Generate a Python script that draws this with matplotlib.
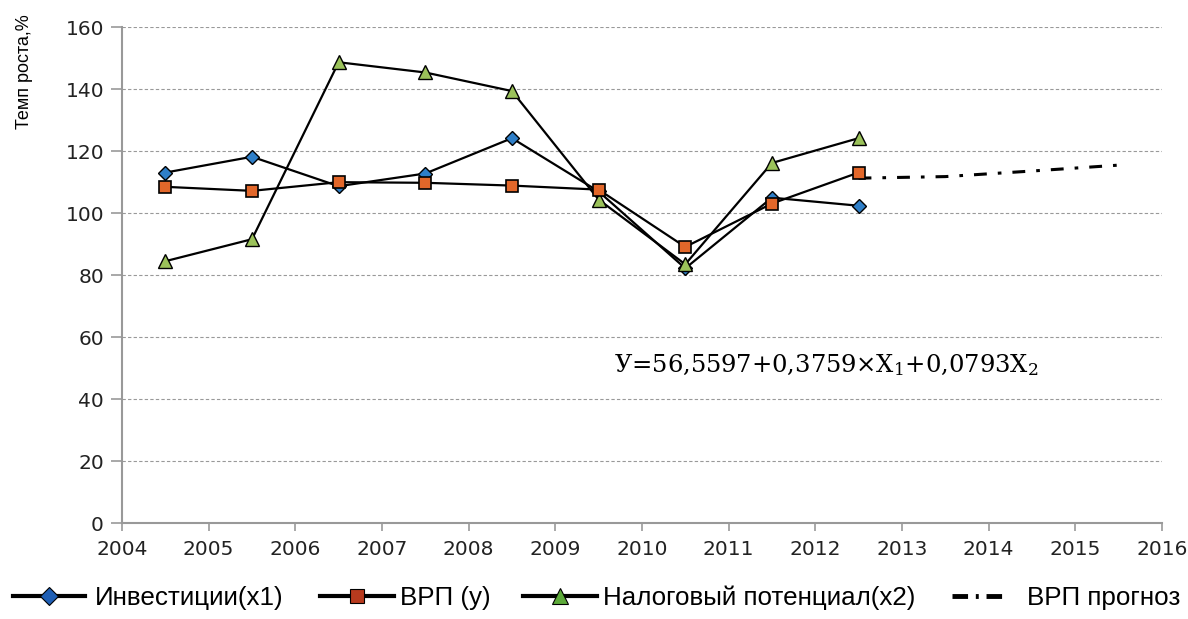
import matplotlib
matplotlib.use('Agg')
import matplotlib.pyplot as plt
from matplotlib.lines import Line2D

plt.rcParams['mathtext.fontset'] = 'dejavuserif'

# данные (темп роста, %)
years = [2004.5, 2005.5, 2006.5, 2007.5, 2008.5, 2009.5, 2010.5, 2011.5, 2012.5]
investicii = [113.1, 118.2, 108.7, 112.8, 124.2, 107.0, 82.2, 105.0, 102.4]
vrp = [108.5, 107.2, 110.0, 109.8, 108.9, 107.6, 89.1, 103.1, 113.1]
nalog = [84.5, 91.6, 148.7, 145.4, 139.4, 104.4, 83.5, 116.2, 124.2]
prognoz_years = [2012.5, 2013.5, 2014.5, 2015.5]
prognoz = [111.3, 111.8, 113.6, 115.5]
xticks = list(range(2004, 2017))
yticks = list(range(0, 161, 20))

labels = ['Инвестиции(x1)', 'ВРП (у)', 'Налоговый потенциал(x2)', 'ВРП прогноз']
c_blue = '#2F7FC8'
c_orange = '#E2672A'
c_green = '#9BC25A'
dashdot = (0, (4.2, 3.6, 1.2, 3.6))

fig = plt.figure(figsize=(11.88, 6.19), dpi=100)
ax = fig.add_axes([0.1027, 0.155, 0.8753, 0.801])

ax.plot(years, investicii, color='black', lw=1.6, marker='D', ms=7,
        mfc=c_blue, mec='black', mew=1.0, zorder=3)
ax.plot(years, nalog, color='black', lw=1.6, marker='^', ms=10,
        mfc=c_green, mec='black', mew=1.0, zorder=4)
ax.plot(years, vrp, color='black', lw=1.6, marker='s', ms=9,
        mfc=c_orange, mec='black', mew=1.2, zorder=5)
ax.plot(prognoz_years, prognoz, color='black', lw=2.2, linestyle=dashdot,
        zorder=2)

ax.set_xlim(2004, 2016)
ax.set_ylim(0, 160)
ax.set_xticks(xticks)
ax.set_yticks(yticks)
ax.tick_params(axis='both', labelsize=14.5, labelcolor='#222222',
               color='#999999', length=6, width=1.2)
ax.tick_params(axis='y', length=8, pad=5)
ax.tick_params(axis='x', pad=6)
ax.grid(axis='y', color='#999999', linestyle=(0, (3, 2)), lw=0.8)
ax.set_axisbelow(True)
for s in ['top', 'right']:
    ax.spines[s].set_visible(False)
for s in ['left', 'bottom']:
    ax.spines[s].set_color('#999999')
    ax.spines[s].set_linewidth(1.5)

fig.text(0.021, 0.884, 'Темп роста,%', rotation=90, ha='center', va='center',
         fontsize=13, family=['Liberation Sans', 'DejaVu Sans'])

ax.text(2009.68, 51, 'У=56,5597+0,3759×X$_1$+0,0793X$_2$', fontsize=17.5,
        family=['DejaVu Serif'], va='center', ha='left')

# легенда: каждая запись отдельно, чтобы разместить как в оригинале
handles = [
    Line2D([], [], color='black', lw=3, marker='D', ms=9, mfc='#1F5FB5', mec='black', mew=0.8),
    Line2D([], [], color='black', lw=3, marker='s', ms=10, mfc='#B83A1E', mec='black', mew=0.8),
    Line2D([], [], color='black', lw=3, marker='^', ms=11, mfc='#5DAA3A', mec='black', mew=0.8),
    Line2D([], [], color='black', lw=3.5, linestyle=(0, (3.2, 1.6, 0.6, 1.6))),
]
fs = 18.7
px_em = fs * 100 / 72
leg_left = [13, 320, 523, 952]
leg_hlen = [72, 74, 74, 51]
leg_text = [95, 400, 603, 1027]
for h, lab, x0, hl, xt in zip(handles, labels, leg_left, leg_hlen, leg_text):
    pad = (xt - x0 - hl) / px_em
    fig.legend([h], [lab], loc='center left', bbox_to_anchor=(x0 / 1188, 0.034),
               frameon=False, borderpad=0, borderaxespad=0,
               handlelength=hl / px_em, handletextpad=pad,
               prop={'family': ['Liberation Sans', 'DejaVu Sans'], 'size': fs})

fig.savefig('out.png', dpi=100)
